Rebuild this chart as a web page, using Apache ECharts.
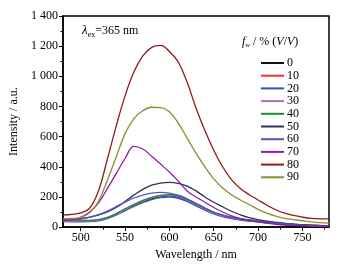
<!DOCTYPE html>
<html>
<head>
<meta charset="utf-8">
<script src="https://cdn.jsdelivr.net/npm/echarts@6/dist/echarts.min.js"></script>
<style>
  html, body { margin: 0; padding: 0; background: #fff; }
  #chart { width: 358px; height: 266px; }
</style>
</head>
<body>
<div id="chart"></div>
<script>
// wavelength points (nm)
var wavelengths = [480, 490, 500, 510, 520, 530, 540, 550, 560, 570, 580, 590, 600, 610, 620, 630,
  640, 650, 660, 670, 680, 690, 700, 710, 720, 730, 740, 750, 760, 770, 780];

// f_w labels
var fwLabels = ['0', '10', '20', '30', '40', '50', '60', '70', '80', '90'];
var fwColors = ['#111111', '#ff2a2a', '#2856b8', '#b070c0', '#208a30', '#30305e', '#5454c4', '#8a20a0', '#8e1c1c', '#8c8c34'];

var fw0 = [45, 42, 40, 40, 45, 60, 84, 113, 142, 168, 188, 201, 207, 199, 176, 146, 116, 91, 73, 60, 50, 43, 37, 30, 25, 20, 16, 13, 10, 8, 6];
var fw10 = [47, 44, 42, 42, 47, 62, 87, 117, 147, 173, 194, 207, 212, 204, 180, 150, 120, 94, 75, 62, 52, 45, 39, 32, 27, 22, 18, 15, 12, 10, 8];
var fw20 = [36, 35, 35, 36, 42, 56, 80, 108, 138, 163, 183, 195, 199, 191, 170, 141, 112, 88, 70, 57, 47, 40, 34, 28, 23, 18, 14, 11, 9, 7, 5];
var fw30 = [42, 40, 39, 40, 46, 61, 86, 116, 146, 172, 193, 206, 211, 203, 179, 149, 119, 93, 74, 61, 51, 44, 38, 31, 26, 21, 17, 14, 11, 9, 7];
var fw40 = [55, 50, 46, 45, 49, 64, 90, 121, 151, 177, 197, 210, 215, 207, 184, 154, 124, 98, 79, 66, 56, 49, 42, 35, 29, 24, 20, 16, 13, 11, 9];
var fw50 = [50, 52, 57, 66, 80, 100, 130, 170, 212, 250, 278, 292, 296, 290, 272, 240, 200, 165, 135, 105, 82, 63, 50, 40, 32, 25, 20, 15, 12, 10, 8];
var fw60 = [44, 47, 54, 65, 82, 106, 136, 166, 193, 212, 225, 230, 226, 212, 188, 158, 128, 100, 80, 65, 54, 46, 39, 32, 26, 21, 16, 13, 10, 8, 6];
var fw70 = [45, 50, 65, 100, 160, 255, 355, 455, 535, 518, 470, 418, 365, 305, 240, 200, 165, 130, 100, 75, 57, 44, 34, 26, 19, 14, 11, 9, 7, 6, 5];
var fw80 = [80, 84, 95, 125, 240, 450, 670, 870, 1030, 1135, 1192, 1205, 1165, 1095, 960, 790, 640, 510, 400, 315, 256, 215, 180, 145, 115, 92, 77, 66, 58, 55, 55];
var fw90 = [55, 57, 65, 95, 170, 310, 465, 620, 720, 772, 795, 792, 765, 690, 590, 490, 400, 320, 260, 215, 180, 150, 118, 92, 72, 58, 50, 42, 35, 30, 27];

var allSeries = [fw0, fw10, fw20, fw30, fw40, fw50, fw60, fw70, fw80, fw90];

var yTicks = [0, 200, 400, 600, 800, 1000, 1200, 1400];
var xMajor = [500, 550, 600, 650, 700, 750];
var xMinor = [525, 575, 625, 675, 725, 775];

var serif = 'Liberation Serif';

function pairs(vals) {
  return wavelengths.map(function (w, i) { return [w, vals[i]]; });
}

var chart = echarts.init(document.getElementById('chart'));

var series = allSeries.map(function (vals, i) {
  return {
    name: fwLabels[i],
    type: 'line',
    xAxisIndex: 0,
    smooth: 0.4,
    symbol: 'none',
    lineStyle: { width: 1.3, color: fwColors[i] },
    itemStyle: { color: fwColors[i] },
    z: 2 + (i >= 5 ? i : 0),
    data: pairs(vals)
  };
});

var option = {
  backgroundColor: '#ffffff',
  animation: false,
  textStyle: { fontFamily: serif },
  grid: {
    left: 63, right: 29, top: 16, bottom: 37,
    show: true, borderColor: '#000', borderWidth: 1.5, backgroundColor: 'transparent'
  },
  legend: {
    orient: 'vertical',
    left: 256,
    top: 52,
    itemWidth: 23,
    itemHeight: 2,
    itemGap: 0.7,
    icon: 'rect',
    textStyle: { fontFamily: serif, fontSize: 12, color: '#000', lineHeight: 12, padding: [0, 0, 0, -2] },
    data: fwLabels
  },
  xAxis: [{
    type: 'value',
    min: 480, max: 780,
    name: 'Wavelength / nm',
    nameLocation: 'middle',
    nameGap: 17,
    nameTextStyle: { fontFamily: serif, fontSize: 12, color: '#000' },
    axisLine: { lineStyle: { color: '#000', width: 1.5 } },
    axisTick: { customValues: xMajor, length: 4, lineStyle: { color: '#000', width: 1 } },
    axisLabel: { customValues: xMajor, fontFamily: serif, fontSize: 12, color: '#000', margin: 5 },
    splitLine: { show: false }
  }, {
    type: 'value',
    min: 480, max: 780,
    position: 'bottom',
    axisLine: { show: false },
    axisTick: { customValues: xMinor, length: 2.5, lineStyle: { color: '#000', width: 1 } },
    axisLabel: { show: false },
    splitLine: { show: false }
  }],
  yAxis: {
    type: 'value',
    min: yTicks[0], max: yTicks[yTicks.length - 1], interval: 200,
    name: 'Intensity / a.u.',
    nameLocation: 'middle',
    nameGap: 40,
    nameTextStyle: { fontFamily: serif, fontSize: 12, color: '#000' },
    axisLine: { show: true, lineStyle: { color: '#000', width: 1.5 } },
    axisTick: { show: true, length: 4, lineStyle: { color: '#000', width: 1 } },
    minorTick: { show: true, splitNumber: 2, length: 2.5, lineStyle: { color: '#000', width: 1 } },
    axisLabel: {
      fontFamily: serif, fontSize: 12, color: '#000', margin: 5,
      formatter: function (v) {
        var s = String(v);
        return s.length > 3 ? s.slice(0, s.length - 3) + ' ' + s.slice(-3) : s;
      }
    },
    splitLine: { show: false }
  },
  graphic: [{
    type: 'text',
    left: 82, top: 24,
    style: {
      text: '{i|λ}{sub|ex}{n|=365 nm}',
      rich: {
        i: { fontFamily: serif, fontSize: 13, fontStyle: 'italic', fill: '#000' },
        sub: { fontFamily: serif, fontSize: 8, fill: '#000', padding: [8, 0, 0, 0] },
        n: { fontFamily: serif, fontSize: 12, fill: '#000' }
      }
    }
  }, {
    type: 'text',
    left: 242, top: 36,
    style: {
      text: '{i|f}{sub|w}{n| / % (}{i|V}{n|/}{i|V}{n|)}',
      rich: {
        i: { fontFamily: serif, fontSize: 12, fontStyle: 'italic', fill: '#000' },
        sub: { fontFamily: serif, fontSize: 7, fontStyle: 'italic', fill: '#000', padding: [7, 0, 0, 0] },
        n: { fontFamily: serif, fontSize: 12, fill: '#000' }
      }
    }
  }],
  series: series
};

chart.setOption(option);
</script>
</body>
</html>
